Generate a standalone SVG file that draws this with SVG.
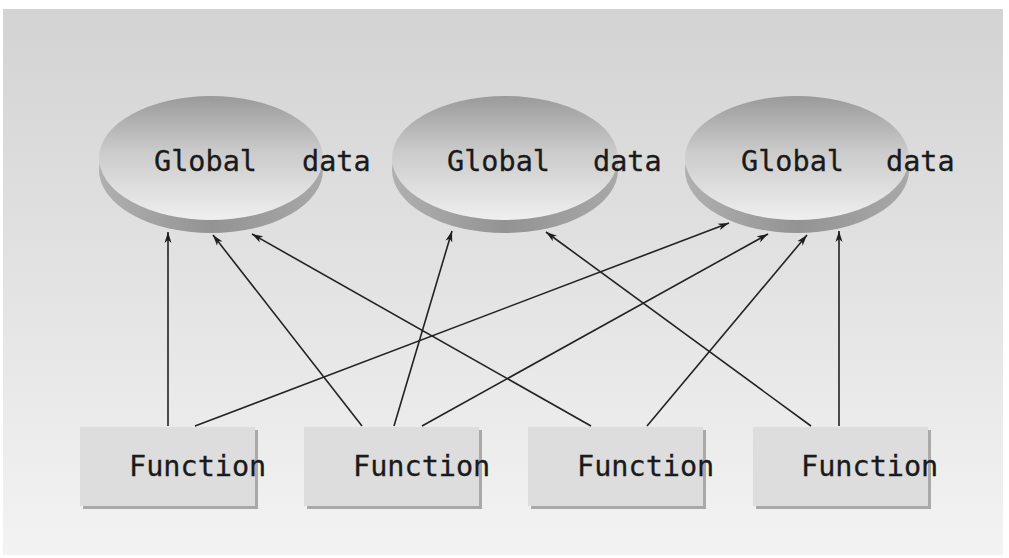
<svg xmlns="http://www.w3.org/2000/svg" width="1009" height="558" viewBox="0 0 1009 558">
<defs>
<linearGradient id="bg" x1="0" y1="0" x2="0" y2="1">
<stop offset="0" stop-color="#d3d3d3"/>
<stop offset="1" stop-color="#f3f3f3"/>
</linearGradient>
<linearGradient id="top" x1="0" y1="0" x2="0" y2="1">
<stop offset="0" stop-color="#9a9a9a"/>
<stop offset="0.45" stop-color="#cbcbcb"/>
<stop offset="1" stop-color="#efefef"/>
</linearGradient>
<linearGradient id="rim" x1="0" y1="0" x2="1" y2="0">
<stop offset="0" stop-color="#b0b0b0"/>
<stop offset="0.5" stop-color="#939393"/>
<stop offset="1" stop-color="#a8a8a8"/>
</linearGradient>
<marker id="ah" markerWidth="12" markerHeight="8" refX="11" refY="4" orient="auto" markerUnits="userSpaceOnUse">
<path d="M0,0.5 L11,4 L0,7.5 L3,4 Z" fill="#1e1e1e"/>
</marker>
</defs>
<style>
.lbl{font-family:"DejaVu Sans Mono","Liberation Mono",monospace;font-size:28.5px;fill:#1a1a1a;stroke:#1a1a1a;stroke-width:0.3}
.rim{fill:url(#rim)}
.face{fill:url(#top)}
.box{fill:#dddddd}
.shd{fill:#a9a9a9}
.con{stroke:#222;stroke-width:1.6;fill:none;marker-end:url(#ah)}
</style>
<rect x="3" y="9" width="1000" height="546" fill="url(#bg)"/>
<g id="global1">
<ellipse class="rim" cx="211" cy="170" rx="112" ry="63"/>
<ellipse class="face" cx="211" cy="158" rx="112" ry="62"/>
<text class="lbl" x="154" y="171">Global</text>
<text class="lbl" x="302" y="171">data</text>
</g>
<g id="global2">
<ellipse class="rim" cx="505" cy="170" rx="113" ry="63"/>
<ellipse class="face" cx="505" cy="158" rx="113" ry="62"/>
<text class="lbl" x="447" y="171">Global</text>
<text class="lbl" x="593" y="171">data</text>
</g>
<g id="global3">
<ellipse class="rim" cx="797" cy="170" rx="112" ry="63"/>
<ellipse class="face" cx="797" cy="158" rx="112" ry="62"/>
<text class="lbl" x="741" y="171">Global</text>
<text class="lbl" x="886" y="171">data</text>
</g>
<g id="func1">
<rect class="shd" x="83" y="430" width="175" height="79"/>
<rect class="box" x="80" y="427" width="175" height="79"/>
<text class="lbl" x="129" y="476">Function</text>
</g>
<g id="func2">
<rect class="shd" x="307" y="430" width="175" height="79"/>
<rect class="box" x="304" y="427" width="175" height="79"/>
<text class="lbl" x="353" y="476">Function</text>
</g>
<g id="func3">
<rect class="shd" x="531" y="430" width="175" height="79"/>
<rect class="box" x="528" y="427" width="175" height="79"/>
<text class="lbl" x="577" y="476">Function</text>
</g>
<g id="func4">
<rect class="shd" x="756" y="430" width="175" height="79"/>
<rect class="box" x="753" y="427" width="175" height="79"/>
<text class="lbl" x="801" y="476">Function</text>
</g>
<g id="connectors">
<line class="con" x1="168" y1="426" x2="168" y2="232"/>
<line class="con" x1="195" y1="426" x2="729" y2="223"/>
<line class="con" x1="362" y1="426" x2="213" y2="235"/>
<line class="con" x1="394" y1="426" x2="452" y2="231"/>
<line class="con" x1="422" y1="426" x2="768" y2="234"/>
<line class="con" x1="591" y1="426" x2="252" y2="234"/>
<line class="con" x1="647" y1="426" x2="807" y2="235"/>
<line class="con" x1="811" y1="426" x2="546" y2="232"/>
<line class="con" x1="839" y1="426" x2="839" y2="231"/>
</g>
</svg>
